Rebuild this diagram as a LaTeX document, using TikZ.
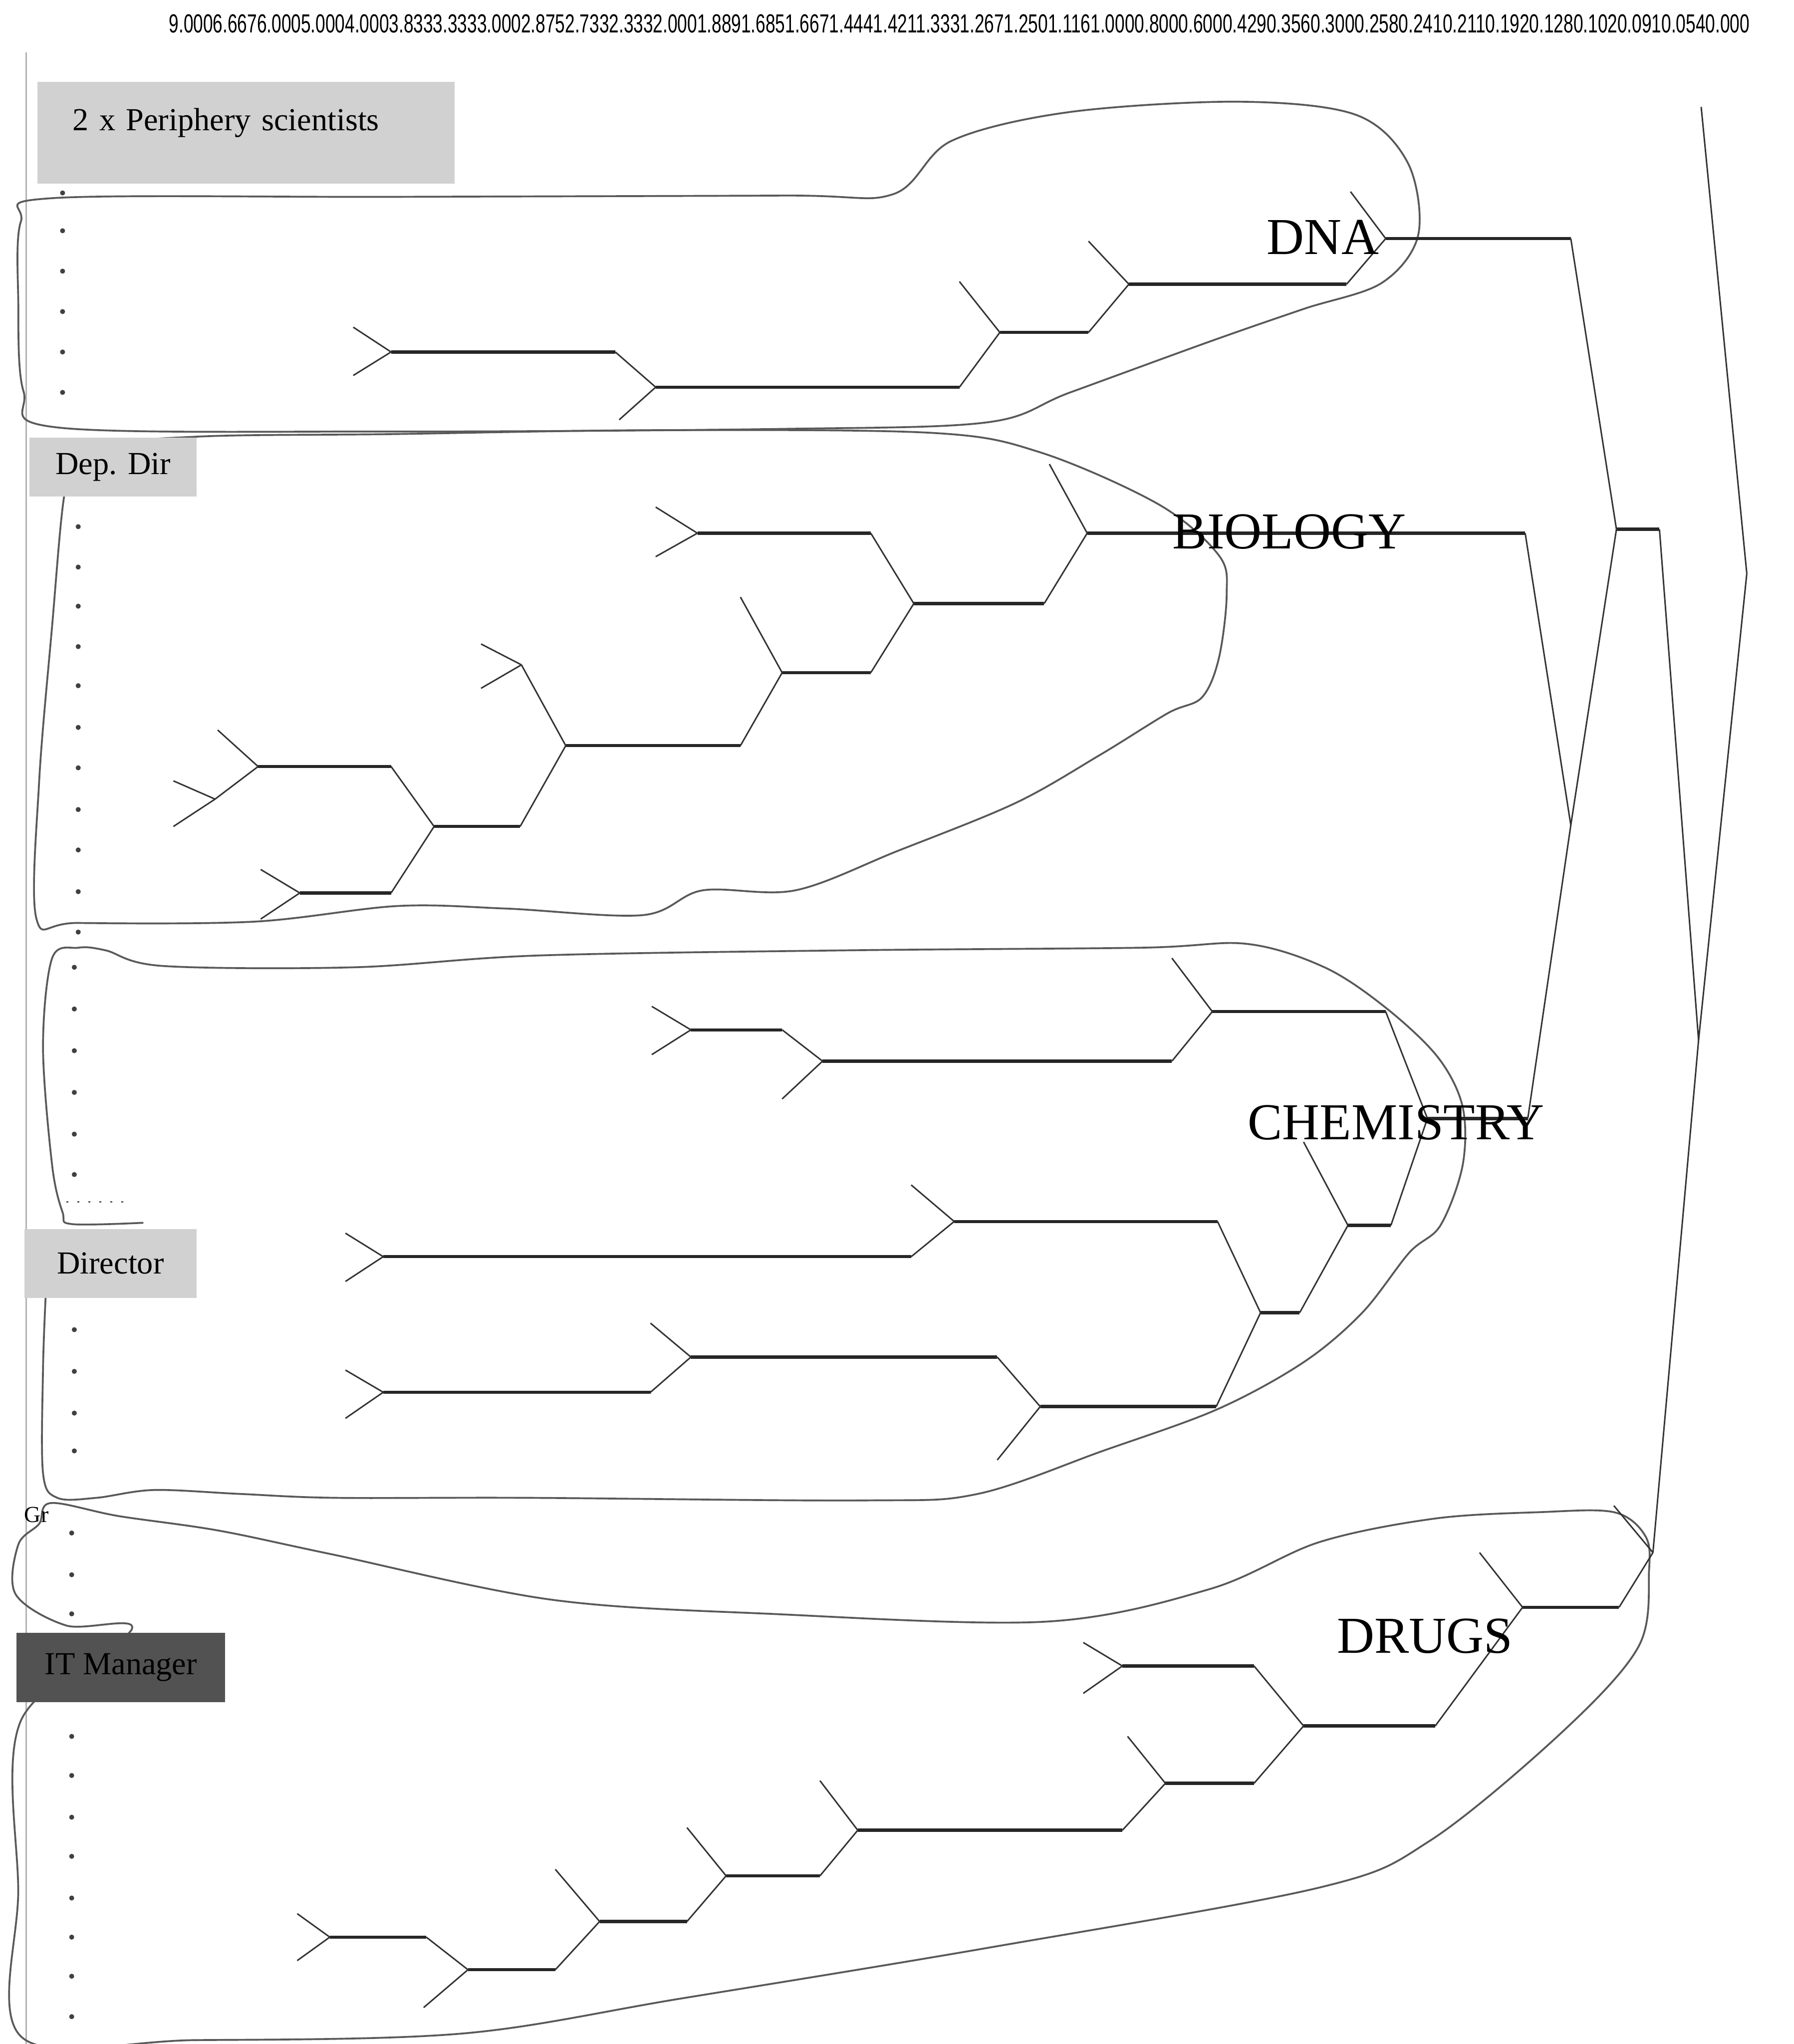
\documentclass[tikz,border=0pt]{standalone}
\usepackage{fontspec}
\setmainfont{Liberation Serif}
\setsansfont{Liberation Sans}
\usepackage{graphicx}

\begin{document}
\begin{tikzpicture}[
  x=0.01cm, y=-0.01cm,
  link/.style={line width=0.7pt, black!85},
  twig/.style={line width=0.32pt, black!80},
  hull/.style={line width=0.4pt, black!65},
  lab/.style={fill=black!18, inner sep=0pt, anchor=north west,
    font=\fontsize{7}{8}\selectfont},
  clus/.style={font=\fontsize{11.3}{12}\selectfont, inner sep=0pt},
  dot/.style={circle, fill=black!75, inner sep=0pt, minimum size=1.1pt},
]
  \fill[white] (0,0) rectangle (1376,1568);
  \useasboundingbox (0,0) rectangle (1376,1568);
  \draw[black!30, line width=0.3pt] (20,40) -- (20,1568);

  % hand drawn hulls
  \draw[hull] plot[smooth cycle, tension=0.55] coordinates {(40,152) (300,151) (600,150)
    (685,149) (730,108) (820,86) (950,78) (1040,88) (1080,125) (1088,180) (1060,217)
    (1000,237) (928,262) (821,301) (757,324) (600,329) (300,331) (45,328) (18,300)
    (14,230) (16,170)};
  \draw[hull] plot[smooth cycle, tension=0.55] coordinates {(150,335) (300,333) (500,330)
    (714,332) (798,347) (889,387) (935,426) (941,456) (935,505) (922,535) (896,547)
    (844,579) (779,616) (688,653) (610,683) (539,683) (493,702) (389,697) (305,695)
    (195,707) (60,708) (28,705) (30,600) (40,480) (49,382) (60,345)};
  \draw[hull] plot[smooth, tension=0.55] coordinates {(110,938) (55,939) (48,930) (40,894)
    (33,803) (40,735) (60,727) (81,729) (125,741) (272,742) (412,733) (650,729)
    (875,727) (956,724) (1016,742) (1063,773) (1103,811) (1122,849) (1122,894)
    (1105,940) (1081,961) (1045,1007) (1000,1045) (934,1081) (846,1113) (750,1146)
    (662,1151) (405,1149) (257,1149) (184,1146) (118,1143) (74,1149) (44,1149)
    (33,1130) (33,1050) (35,995)};
  \draw[hull, dotted] (51,922) -- (96,922);
  \draw[hull] plot[smooth cycle, tension=0.55] coordinates {(39,1153) (91,1163) (167,1174)
    (253,1192) (422,1227) (591,1238) (802,1244) (928,1219) (1012,1183) (1100,1165)
    (1181,1160) (1238,1160) (1262,1178) (1265,1205) (1257,1263) (1198,1329)
    (1097,1412) (1012,1448) (759,1494) (523,1533) (354,1560) (150,1565) (17,1563)
    (14,1450) (16,1320) (101,1250) (51,1247) (12,1223) (14,1185) (30,1169)};

  % tree points
  \foreach \n/\px/\py in {
      d1/300/270, d1e/472/270, d2/503/297, d2e/736/297, d3/767/255, d3e/835/255,
      d4/866/218, d4e/1033/218, d5/1063/183, d5e/1205/183,
      la1/271/251, la2/271/288, la3/475/322, la4/736/216, la5/835/185, la6/1036/147,
      b1/535/409, b1e/668/409, b2/165/613, b3/198/588, b3e/300/588, b4/230/685,
      b4e/300/685, b5/333/634, b5e/399/634, b6/400/510, b7/434/572, b7e/568/572,
      b8/600/516, b8e/668/516, b9/701/463, b9e/801/463, b10/834/409, b10e/1170/409,
      lb1/503/389, lb2/503/427, lb3/133/599, lb4/133/634, lb5/167/560, lb6/200/667,
      lb7/200/705, lb8/369/494, lb9/369/528, lb10/568/458, lb11/805/356,
      c1/530/790, c1e/600/790, c2/631/814, c2e/899/814, c3/930/776, c3e/1063/776,
      c4/294/964, c4e/699/964, c5/732/937, c5e/934/937, c6/294/1068, c6e/499/1068,
      c7/530/1041, c7e/765/1041, c8/798/1079, c8e/933/1079, c9/967/1007, c9e/997/1007,
      c10/1034/940, c10e/1067/940, c11/1095/858, c11e/1172/858,
      lc1/500/772, lc2/500/809, lc3/600/843, lc4/899/735, lc5/265/946, lc6/265/983,
      lc7/699/909, lc8/265/1051, lc9/265/1088, lc10/499/1015, lc11/765/1120,
      lc12/1000/876,
      r1/1205/633, r2/1240/406, r2e/1273/406, r3/1303/798, r4/1340/440, lr/1305/82,
      u1/253/1486, u1e/327/1486, u2/359/1511, u2e/426/1511, u3/460/1474, u3e/527/1474,
      u4/557/1439, u4e/629/1439, u5/658/1404, u5e/861/1404, u6/894/1368, u6e/962/1368,
      u7/861/1278, u7e/962/1278, u8/1000/1324, u8e/1101/1324, u9/1168/1233,
      u9e/1242/1233, u10/1268/1191,
      lu1/228/1468, lu2/228/1504, lu3/325/1540, lu4/426/1434, lu5/527/1402,
      lu6/629/1366, lu7/865/1332, lu8/831/1260, lu9/831/1299, lu10/1135/1191,
      lu11/1238/1155}
    \coordinate (\n) at (\px,\py);

  % horizontal branches
  \foreach \a in {d1, d2, d3, d4, d5, b1, b3, b4, b5, b7, b8, b9, b10,
                  c1, c2, c3, c4, c5, c6, c7, c8, c9, c10, c11, r2,
                  u1, u2, u3, u4, u5, u6, u7, u8, u9}
    \draw[link] (\a) -- (\a e);

  % joins
  \foreach \a/\b in {la1/d1, la2/d1, d1e/d2, la3/d2, d2e/d3, la4/d3, d3e/d4, la5/d4,
      d4e/d5, la6/d5,
      lb1/b1, lb2/b1, lb3/b2, lb4/b2, lb5/b3, b2/b3, lb6/b4, lb7/b4, b3e/b5, b4e/b5,
      lb8/b6, lb9/b6, b6/b7, b5e/b7, lb10/b8, b7e/b8, b1e/b9, b8e/b9, lb11/b10, b9e/b10,
      lc1/c1, lc2/c1, c1e/c2, lc3/c2, lc4/c3, c2e/c3, lc5/c4, lc6/c4, lc7/c5, c4e/c5,
      lc8/c6, lc9/c6, lc10/c7, c6e/c7, c7e/c8, lc11/c8, c5e/c9, c8e/c9, lc12/c10,
      c9e/c10, c3e/c11, c10e/c11,
      b10e/r1, c11e/r1, d5e/r2, r1/r2, r2e/r3, u10/r3, lr/r4, r3/r4,
      lu1/u1, lu2/u1, u1e/u2, lu3/u2, lu4/u3, u2e/u3, lu5/u4, u3e/u4, lu6/u5, u4e/u5,
      lu7/u6, u5e/u6, lu8/u7, lu9/u7, u7e/u8, u6e/u8, lu10/u9, u8e/u9, u9e/u10, lu11/u10}
    \draw[twig] (\a) -- (\b);

  % item dots
  \foreach \py in {148, 177, 208, 239, 270, 301}
    \node[dot] (dd\py) at (48,\py) {};
  \foreach \py in {404, 435, 465, 496, 526, 558, 589, 621, 652, 684, 715}
    \node[dot] (bd\py) at (60,\py) {};
  \foreach \py in {742, 774, 806, 838, 870, 901, 1020, 1052, 1084, 1113}
    \node[dot] (cd\py) at (57,\py) {};
  \foreach \py in {1176, 1208, 1238, 1332, 1362, 1394, 1424, 1456, 1486, 1516, 1547}
    \node[dot] (ud\py) at (55,\py) {};

  % role labels
  \node[lab, text width=2.66cm, inner xsep=0.27cm, minimum height=0.78cm, align=left,
    text depth=0.2cm] (peri) at (28,62) {2 x Periphery scientists};
  \node[lab, minimum width=1.28cm, minimum height=0.45cm] (depdir) at (22,335) {Dep. Dir};
  \node[lab, minimum width=1.32cm, minimum height=0.53cm] (dir) at (18,942) {Director};
  \node[lab, fill=black!68, minimum width=1.6cm, minimum height=0.53cm] (itman)
    at (12,1252) {IT Manager};
  \node[font=\fontsize{5}{6}\selectfont, inner sep=0pt] (gr) at (28,1162) {Gr};

  % cluster names
  \node[clus] (dna) at (1015,182) {DNA};
  \node[clus] (bio) at (989,408) {BIOLOGY};
  \node[clus] (chem) at (1071,861) {CHEMISTRY};
  \node[clus] (drugs) at (1093,1255) {DRUGS};

  % distance scale
  \node[inner sep=0pt] (scale) at (736,18) {\resizebox{12.12cm}{0.14cm}{\sffamily
    9.0006.6676.0005.0004.0003.8333.3333.0002.8752.7332.3332.0001.8891.6851.6671.4441.4211.3331.2671.2501.1161.0000.8000.6000.4290.3560.3000.2580.2410.2110.1920.1280.1020.0910.0540.000}};
\end{tikzpicture}
\end{document}
